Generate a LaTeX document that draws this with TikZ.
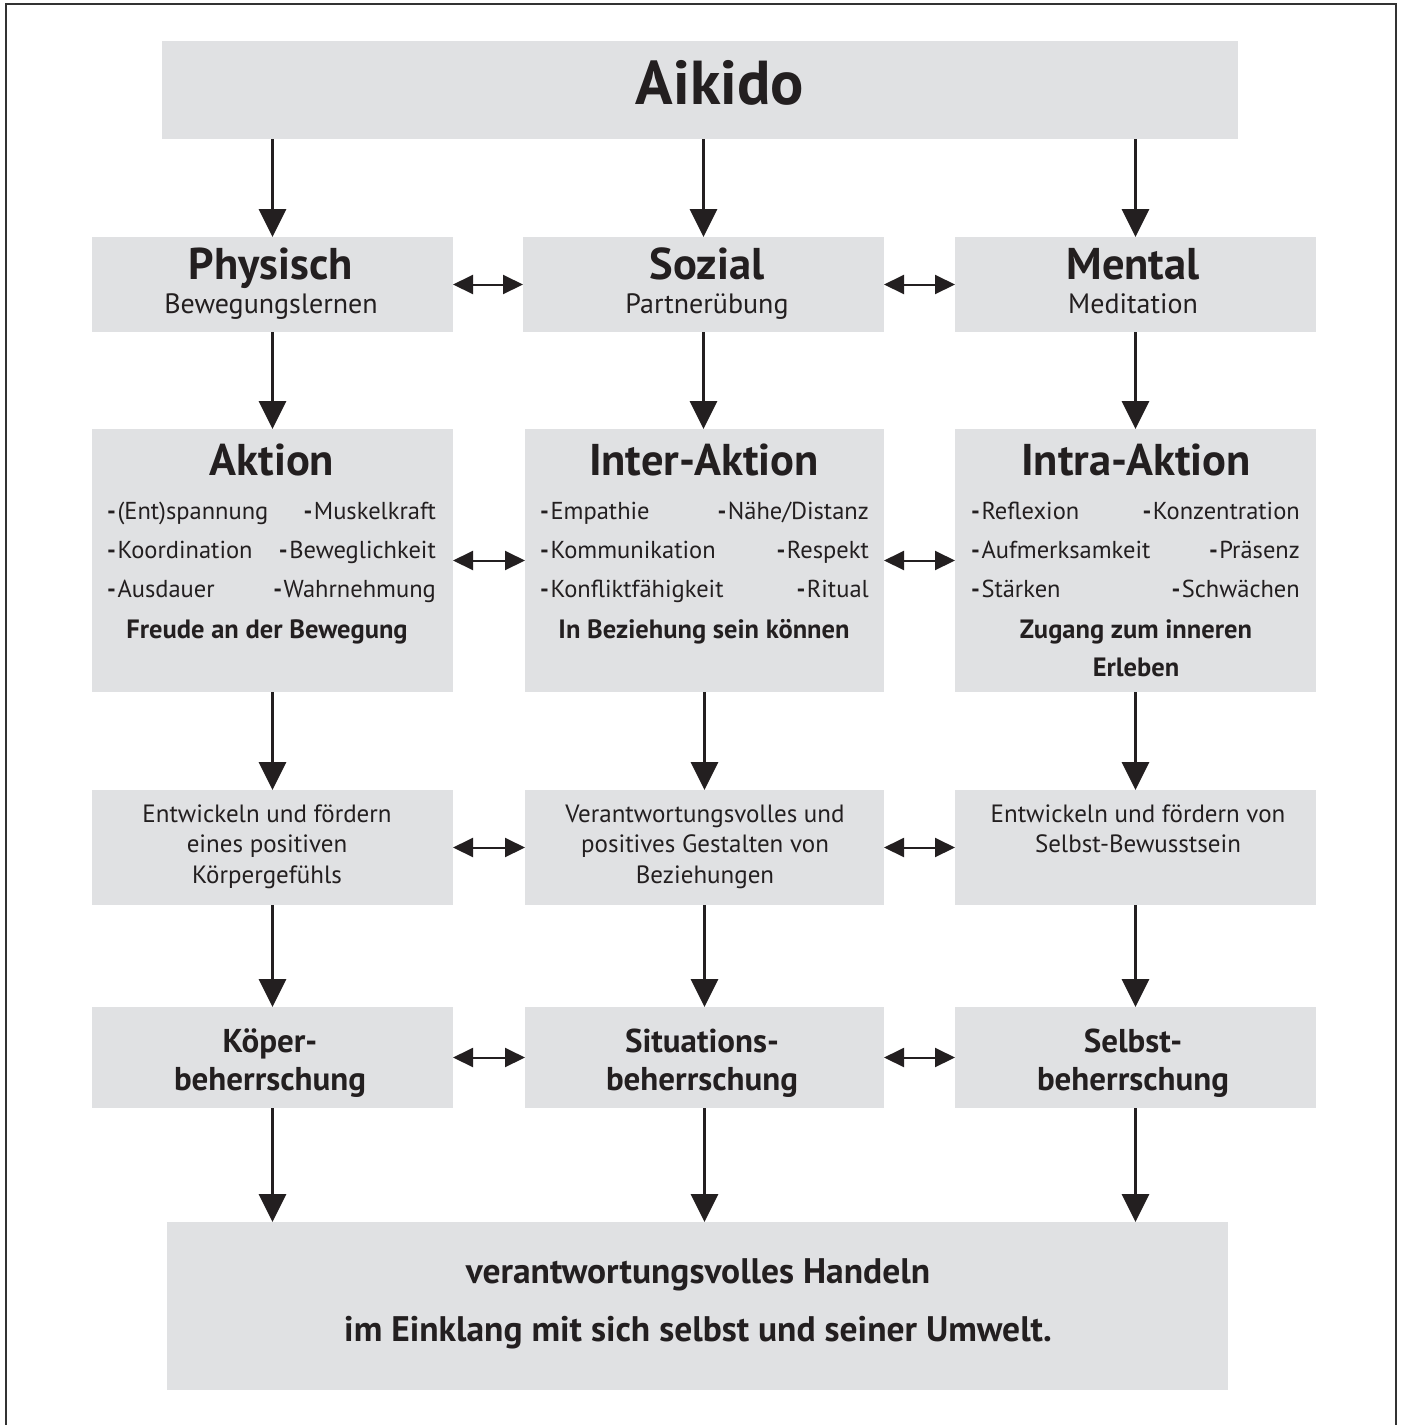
\documentclass[tikz,border=0pt]{standalone}
\usepackage{fontspec}
\setmainfont{PT Sans}
\usetikzlibrary{arrows.meta}
\definecolor{boxgray}{RGB}{224,225,227}
\definecolor{txt}{RGB}{35,31,32}
\newcommand{\dsh}{{\bfseries -}\hspace{1.5pt}}
\begin{document}
\begin{tikzpicture}[x=1pt,y=-1pt,
  box/.style={fill=boxgray, draw=none, inner sep=0pt, outer sep=0pt},
  t/.style={inner sep=0pt, anchor=base, text=txt},
  title/.style={t, font=\fontsize{44.5}{44.5}\selectfont\bfseries},
  sub/.style={t, font=\fontsize{28}{28}\selectfont},
  itm/.style={inner sep=0pt, text=txt, font=\fontsize{24.5}{24.5}\selectfont},
  itl/.style={itm, anchor=base west},
  itr/.style={itm, anchor=base east},
  bld/.style={t, font=\fontsize{26.5}{26.5}\selectfont\bfseries},
  reg/.style={t, font=\fontsize{25}{25}\selectfont},
  bt/.style={t, font=\fontsize{33}{33}\selectfont\bfseries},
  varrow/.style={draw=txt, line width=3pt, -{Triangle[length=28pt,width=27pt]}},
  harrow/.style={draw=txt, line width=2pt, {Triangle[length=20pt,width=19pt]}-{Triangle[length=20pt,width=19pt]}}
]
\useasboundingbox (0,0) rectangle (1402,1425);
\fill[white] (0,0) rectangle (1402,1425);
\draw[line width=1.5pt, black!80] (6,1425) -- (6,4) -- (1396,4) -- (1396,1425);

% boxes
\node[box, minimum width=1076pt, minimum height=98pt] (aik) at (700,90) {};
\node[box, minimum width=361pt, minimum height=95pt] (phys) at (272.5,284.5) {};
\node[box, minimum width=361pt, minimum height=95pt] (soz) at (703.5,284.5) {};
\node[box, minimum width=361pt, minimum height=95pt] (ment) at (1135.5,284.5) {};
\node[box, minimum width=361pt, minimum height=263pt] (akt) at (272.5,560.5) {};
\node[box, minimum width=359pt, minimum height=263pt] (inter) at (704.5,560.5) {};
\node[box, minimum width=361pt, minimum height=263pt] (intra) at (1135.5,560.5) {};
\node[box, minimum width=361pt, minimum height=115pt] (ent) at (272.5,847.5) {};
\node[box, minimum width=359pt, minimum height=115pt] (ver) at (704.5,847.5) {};
\node[box, minimum width=361pt, minimum height=115pt] (sel) at (1135.5,847.5) {};
\node[box, minimum width=361pt, minimum height=101pt] (koe) at (272.5,1057.5) {};
\node[box, minimum width=359pt, minimum height=101pt] (sit) at (704.5,1057.5) {};
\node[box, minimum width=361pt, minimum height=101pt] (selb) at (1135.5,1057.5) {};
\node[box, minimum width=1061pt, minimum height=168pt] (hand) at (697.5,1306) {};

% texts
\node[t, font=\fontsize{62}{62}\selectfont\bfseries] (taik) at (720,104) {Aikido};

\node[title] (tphys) at (271,279) {Physisch};
\node[sub] (sphys) at (271,313) {Bewegungslernen};
\node[title] (tsoz) at (707,279) {Sozial};
\node[sub] (ssoz) at (707,313) {Partnerübung};
\node[title] (tment) at (1133,279) {Mental};
\node[sub] (sment) at (1133,313) {Meditation};

\node[title] (takt) at (272,475) {Aktion};
\node[itl] (a1) at (107,519.5) {\dsh(Ent)spannung};
\node[itr] (a2) at (436,519.5) {\dsh Muskelkraft};
\node[itl] (a3) at (107,558.3) {\dsh Koordination};
\node[itr] (a4) at (436,558.3) {\dsh Beweglichkeit};
\node[itl] (a5) at (107,597) {\dsh Ausdauer};
\node[itr] (a6) at (436,597) {\dsh Wahrnehmung};
\node[bld] (a7) at (267,638) {Freude an der Bewegung};

\node[title] (tinter) at (704,475) {Inter-Aktion};
\node[itl] (i1) at (540,519.5) {\dsh Empathie};
\node[itr] (i2) at (869,519.5) {\dsh Nähe/Distanz};
\node[itl] (i3) at (540,558.3) {\dsh Kommunikation};
\node[itr] (i4) at (869,558.3) {\dsh Respekt};
\node[itl] (i5) at (540,597) {\dsh Konfliktfähigkeit};
\node[itr] (i6) at (869,597) {\dsh Ritual};
\node[bld] (i7) at (704,638) {In Beziehung sein können};

\node[title] (tintra) at (1136,475) {Intra-Aktion};
\node[itl] (r1) at (971,519.5) {\dsh Reflexion};
\node[itr] (r2) at (1300,519.5) {\dsh Konzentration};
\node[itl] (r3) at (971,558.3) {\dsh Aufmerksamkeit};
\node[itr] (r4) at (1300,558.3) {\dsh Präsenz};
\node[itl] (r5) at (971,597) {\dsh Stärken};
\node[itr] (r6) at (1300,597) {\dsh Schwächen};
\node[bld] (r7) at (1136,638) {Zugang zum inneren};
\node[bld] (r8) at (1136,676) {Erleben};

\node[reg] (e1) at (267,822) {Entwickeln und fördern};
\node[reg] (e2) at (267,852.5) {eines positiven};
\node[reg] (e3) at (267,883) {Körpergefühls};
\node[reg] (v1) at (705,822) {Verantwortungsvolles und};
\node[reg] (v2) at (705,852.5) {positives Gestalten von};
\node[reg] (v3) at (705,883) {Beziehungen};
\node[reg] (s1) at (1138,822) {Entwickeln und fördern von};
\node[reg] (s2) at (1138,852.5) {Selbst-Bewusstsein};

\node[bt] (k1) at (270,1052) {Köper-};
\node[bt] (k2) at (270,1090) {beherrschung};
\node[bt] (k3) at (702,1052) {Situations-};
\node[bt] (k4) at (702,1090) {beherrschung};
\node[bt] (k5) at (1133,1052) {Selbst-};
\node[bt] (k6) at (1133,1090) {beherrschung};

\node[t, font=\fontsize{35.5}{35.5}\selectfont\bfseries] (h1) at (698,1283) {verantwortungsvolles Handeln};
\node[t, font=\fontsize{35.5}{35.5}\selectfont\bfseries] (h2) at (698,1341) {im Einklang mit sich selbst und seiner Umwelt.};

% vertical arrows
\draw[varrow] (aik.south -| phys.north) -- (phys.north);
\draw[varrow] (aik.south -| soz.north) -- (soz.north);
\draw[varrow] (aik.south -| ment.north) -- (ment.north);
\draw[varrow] (phys.south) -- (akt.north);
\draw[varrow] (soz.south) -- (soz.south |- inter.north);
\draw[varrow] (ment.south) -- (intra.north);
\draw[varrow] (akt.south) -- (ent.north);
\draw[varrow] (inter.south) -- (ver.north);
\draw[varrow] (intra.south) -- (sel.north);
\draw[varrow] (ent.south) -- (koe.north);
\draw[varrow] (ver.south) -- (sit.north);
\draw[varrow] (sel.south) -- (selb.north);
\draw[varrow] (koe.south) -- (koe.south |- hand.north);
\draw[varrow] (sit.south) -- (sit.south |- hand.north);
\draw[varrow] (selb.south) -- (selb.south |- hand.north);

% horizontal arrows
\draw[harrow] (phys.east) -- (soz.west);
\draw[harrow] (soz.east) -- (ment.west);
\draw[harrow] (akt.east) -- (inter.west);
\draw[harrow] (inter.east) -- (intra.west);
\draw[harrow] (ent.east) -- (ver.west);
\draw[harrow] (ver.east) -- (sel.west);
\draw[harrow] (koe.east) -- (sit.west);
\draw[harrow] (sit.east) -- (selb.west);
\end{tikzpicture}
\end{document}
